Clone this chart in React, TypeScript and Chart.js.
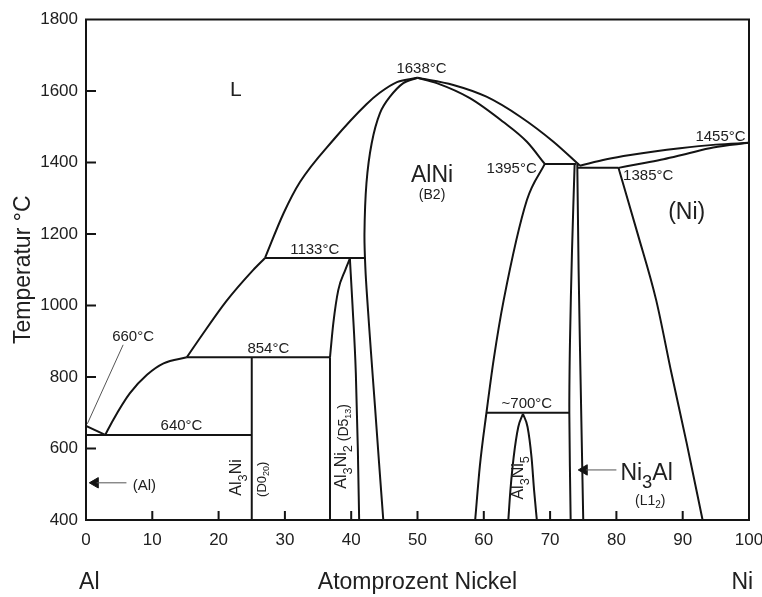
import React, { useEffect, useRef } from 'react';
import { Chart, registerables } from 'chart.js';

Chart.register(...registerables);

// ---------- axes ----------
const xMin = 0, xMax = 100, xStep = 10;
const yMin = 400, yMax = 1800, yStep = 200;
const xTitle = 'Atomprozent Nickel';
const yTitle = 'Temperatur °C';
const xEndLabels = [{ text: 'Al', x: 0.5 }, { text: 'Ni', x: 99 }];

// ---------- phase boundaries: [at.% Ni, °C] ----------
const alLiquidus = [[0, 663], [2.9, 638]];
const liquidusToAl3Ni = [[2.9, 638], [4.1, 680], [6.6, 754], [9.2, 806], [11.7, 838], [15.2, 855]];
const liquidusToAl3Ni2 = [[15.2, 855], [17.3, 912], [21.2, 1013], [25.2, 1099], [27, 1133]];
const liquidusAlNiLeft = [[27, 1133], [29.8, 1258], [32.3, 1346], [37.3, 1463], [42.3, 1563], [44.3, 1595], [46.9, 1625], [50, 1637]];
const liquidusAlNiRight = [[50, 1637], [55.4, 1617], [60.4, 1584], [65.5, 1528], [70.5, 1458], [74.5, 1391]];
const solidusAlNiRight = [[50, 1637], [52.9, 1622], [57.9, 1580], [62.9, 1514], [66.5, 1458], [69.2, 1396]];
const alNiLeftBoundary = [[50, 1637], [47.86, 1622], [45.85, 1584], [44.34, 1538], [43.09, 1454], [42.3, 1342], [42.0, 1200], [42.15, 1100], [42.43, 1015], [43.0, 865], [43.59, 717], [44.2, 560], [44.84, 400]];
const alNiRightBoundary = [[58.7, 400], [59.4, 550], [60.4, 700], [61.5, 850], [63.0, 1015], [66.5, 1295], [69.2, 1396]];
const tie1133 = [[27, 1133], [42.1, 1133]];
const tie854 = [[15.2, 855], [36.8, 855]];
const tie640 = [[0, 638], [25, 638]];
const tie1395 = [[69.2, 1396], [73.9, 1396]];
const tie1385 = [[74.1, 1385], [80.3, 1385]];
const tie700 = [[60.4, 700], [72.9, 700]];
const al3NiLine = [[25, 855], [25, 400]];
const al3Ni2LeftUpper = [[36.8, 855], [37.3, 950], [38.05, 1043], [39.1, 1099], [39.8, 1131]];
const al3Ni2LeftLower = [[36.8, 855], [36.8, 400]];
const al3Ni2Right = [[39.8, 1131], [40.2, 1000], [40.7, 810], [41.0, 600], [41.2, 400]];
const ni3AlLeft = [[73.7, 1396], [73.3, 1150], [73.0, 900], [72.9, 700], [73.1, 400]];
const ni3AlRight = [[74.1, 1396], [74.3, 1100], [74.6, 790], [75.0, 400]];
const niLiquidus = [[74.5, 1391], [78.5, 1409], [82.1, 1421], [89.6, 1440], [95, 1450], [100, 1455]];
const niSolidus = [[80.3, 1385], [84, 1398], [87.1, 1409], [90.5, 1424], [94.6, 1442], [100, 1455]];
const niSolvus = [[80.3, 1386], [83.2, 1201], [86.0, 1015], [88.3, 811], [90.6, 615], [93.0, 400]];
const al3Ni5Left = [[63.7, 400], [64.0, 480], [64.5, 575], [65.2, 660], [65.9, 697]];
const al3Ni5Right = [[65.9, 697], [66.6, 660], [67.2, 575], [67.6, 480], [68.0, 400]];

// ---------- leader lines / arrows ----------
const leader660 = [[0.2, 669], [5.6, 890]];
const arrowAlLine = [[1.6, 504], [6.1, 504]];
const arrowAlHead = [[1.4, 504]];
const arrowNi3AlLine = [[75.4, 540], [80.0, 540]];
const arrowNi3AlHead = [[75.15, 540]];

const FONT = '"Liberation Sans", Arial, Helvetica, sans-serif';
const LINE = '#141414';
const TEXT = '#202020';

type Part = string | { t: string; sub?: boolean; size?: number; dy?: number };
type Label = { parts: Part[]; x: number; y: number; size: number; rot?: number; align?: 'center' | 'left' | 'right' };

// label anchors in data coordinates
const labels: Label[] = [
  { parts: ['L'], x: 22.6, y: 1608, size: 21 },
  { parts: ['1638°C'], x: 50.6, y: 1666, size: 15 },
  { parts: ['AlNi'], x: 52.2, y: 1368, size: 23 },
  { parts: ['(B2)'], x: 52.2, y: 1311, size: 14 },
  { parts: ['1395°C'], x: 64.2, y: 1386, size: 15 },
  { parts: ['1455°C'], x: 95.7, y: 1475, size: 15 },
  { parts: ['1385°C'], x: 84.8, y: 1367, size: 15 },
  { parts: ['(Ni)'], x: 90.6, y: 1265, size: 23 },
  { parts: ['1133°C'], x: 34.5, y: 1158, size: 15 },
  { parts: ['660°C'], x: 7.1, y: 917, size: 15 },
  { parts: ['854°C'], x: 27.5, y: 882, size: 15 },
  { parts: ['640°C'], x: 14.4, y: 668, size: 15 },
  { parts: ['(Al)'], x: 8.8, y: 498, size: 15 },
  { parts: ['~700°C'], x: 66.5, y: 729, size: 15 },
  { parts: ['Ni', { t: '3', sub: true }, 'Al'], x: 80.6, y: 536, size: 23, align: 'left' },
  { parts: ['(L1', { t: '2', sub: true, size: 10, dy: 3 }, ')'], x: 85.1, y: 456, size: 14 },
  { parts: ['Al', { t: '3', sub: true }, 'Ni'], x: 22.5, y: 519, size: 16, rot: -90 },
  { parts: ['(D0', { t: '20', size: 9, dy: 3 }, ')'], x: 26.4, y: 514, size: 13, rot: -90 },
  { parts: ['Al', { t: '3', sub: true }, 'Ni', { t: '2', sub: true }, { t: ' (D5', size: 14, dy: 2 }, { t: '13', size: 9, dy: 5 }, { t: ')', size: 14, dy: 2 }], x: 38.4, y: 606, size: 16, rot: -90 },
  { parts: ['Al', { t: '3', sub: true }, 'Ni', { t: '5', sub: true }], x: 65.1, y: 518, size: 16, rot: -90 },
];

function drawRich(ctx: CanvasRenderingContext2D, lab: Label, px: number, py: number) {
  ctx.save();
  ctx.translate(px, py);
  if (lab.rot) ctx.rotate((lab.rot * Math.PI) / 180);
  const segs = lab.parts.map((p) => {
    const o = typeof p === 'string' ? { t: p } : p;
    const size = o.size ?? (o.sub ? lab.size * 0.8 : lab.size);
    const dy = o.dy ?? (o.sub ? lab.size * 0.38 : 0);
    ctx.font = `${size}px ${FONT}`;
    return { t: o.t, size, dy, w: ctx.measureText(o.t).width };
  });
  const total = segs.reduce((a, s) => a + s.w, 0);
  const align = lab.align ?? 'center';
  let x0 = align === 'center' ? -total / 2 : align === 'right' ? -total : 0;
  ctx.fillStyle = TEXT;
  ctx.textAlign = 'left';
  ctx.textBaseline = 'alphabetic';
  for (const s of segs) {
    ctx.font = `${s.size}px ${FONT}`;
    ctx.fillText(s.t, x0, lab.size * 0.36 + s.dy);
    x0 += s.w;
  }
  ctx.restore();
}

const overlayPlugin = {
  id: 'phaseOverlay',
  afterDatasetsDraw(chart: any) {
    const { ctx, chartArea, scales } = chart;
    const xs = scales.x, ys = scales.y;
    ctx.save();
    ctx.strokeStyle = LINE;
    ctx.lineWidth = 2;
    ctx.strokeRect(chartArea.left, chartArea.top, chartArea.right - chartArea.left, chartArea.bottom - chartArea.top);
    ctx.beginPath();
    for (let v = xMin + xStep; v < xMax; v += xStep) {
      const p = xs.getPixelForValue(v);
      ctx.moveTo(p, chartArea.bottom);
      ctx.lineTo(p, chartArea.bottom - 9);
    }
    for (let v = yMin + yStep; v < yMax; v += yStep) {
      const p = ys.getPixelForValue(v);
      ctx.moveTo(chartArea.left, p);
      ctx.lineTo(chartArea.left + 10, p);
    }
    ctx.stroke();
    for (const lab of labels) {
      drawRich(ctx, lab, xs.getPixelForValue(lab.x), ys.getPixelForValue(lab.y));
    }
    ctx.fillStyle = TEXT;
    ctx.font = `23px ${FONT}`;
    ctx.textAlign = 'center';
    ctx.textBaseline = 'middle';
    for (const e of xEndLabels) {
      ctx.fillText(e.text, xs.getPixelForValue(e.x), xs.bottom - 14);
    }
    ctx.restore();
  },
};

const toPts = (a: number[][]) => a.map(([x, y]) => ({ x, y }));

// [points, interpolation]: 'm' monotone cubic, number = bezier tension
const curveList: [number[][], 'm' | number][] = [
  [alLiquidus, 0],
  [liquidusToAl3Ni, 'm'],
  [liquidusToAl3Ni2, 'm'],
  [liquidusAlNiLeft, 'm'],
  [liquidusAlNiRight, 'm'],
  [solidusAlNiRight, 'm'],
  [alNiLeftBoundary, 0.3],
  [alNiRightBoundary, 'm'],
  [tie1133, 0],
  [tie854, 0],
  [tie640, 0],
  [tie1395, 0],
  [tie1385, 0],
  [tie700, 0],
  [al3NiLine, 0],
  [al3Ni2LeftUpper, 'm'],
  [al3Ni2LeftLower, 0],
  [al3Ni2Right, 'm'],
  [ni3AlLeft, 0.3],
  [ni3AlRight, 'm'],
  [niLiquidus, 'm'],
  [niSolidus, 'm'],
  [niSolvus, 'm'],
  [al3Ni5Left, 'm'],
  [al3Ni5Right, 'm'],
];

function buildDatasets() {
  const ds: any[] = curveList.map(([pts, mode]) => ({
    data: toPts(pts),
    showLine: true,
    borderColor: LINE,
    borderWidth: 2,
    pointRadius: 0,
    tension: mode === 'm' ? 0 : mode,
    cubicInterpolationMode: mode === 'm' ? 'monotone' : 'default',
    fill: false,
  }));
  for (const pts of [leader660, arrowAlLine, arrowNi3AlLine]) {
    ds.push({ data: toPts(pts), showLine: true, borderColor: '#555', borderWidth: 1, pointRadius: 0, tension: 0, fill: false });
  }
  for (const pts of [arrowAlHead, arrowNi3AlHead]) {
    ds.push({
      data: toPts(pts),
      showLine: false,
      pointStyle: 'triangle',
      pointRotation: 270,
      pointRadius: 6,
      pointBackgroundColor: LINE,
      pointBorderColor: LINE,
      pointBorderWidth: 1,
    });
  }
  return ds;
}

export default function App() {
  const ref = useRef<HTMLCanvasElement>(null);
  useEffect(() => {
    if (!ref.current) return;
    const chart = new Chart(ref.current, {
      type: 'scatter',
      data: { datasets: buildDatasets() },
      options: {
        responsive: false,
        animation: false,
        events: [],
        layout: { padding: { top: 19.5, right: 13, bottom: 0, left: 0 } },
        plugins: { legend: { display: false }, tooltip: { enabled: false } },
        scales: {
          x: {
            type: 'linear',
            min: xMin,
            max: xMax,
            position: 'bottom',
            grid: { display: false, drawTicks: false },
            border: { display: false },
            ticks: { stepSize: xStep, padding: 10, color: TEXT, font: { size: 17, family: FONT }, maxRotation: 0, autoSkip: false, callback: (v: any) => String(v) },
            title: { display: true, text: xTitle, color: TEXT, font: { size: 23, family: FONT }, padding: { top: 0, bottom: 1 } },
            afterFit(s: any) { s.height = 77; s.paddingLeft = 0; s.paddingRight = 0; },
          },
          y: {
            type: 'linear',
            min: yMin,
            max: yMax,
            position: 'left',
            grid: { display: false, drawTicks: false },
            border: { display: false },
            ticks: { stepSize: yStep, padding: 8, color: TEXT, font: { size: 17, family: FONT }, callback: (v: any) => String(v) },
            title: { display: true, text: yTitle, color: TEXT, font: { size: 23, family: FONT }, padding: { top: 10, bottom: 0 } },
            afterFit(s: any) { s.width = 86; s.paddingTop = 0; s.paddingBottom = 0; },
          },
        },
      } as any,
      plugins: [overlayPlugin],
    });
    return () => chart.destroy();
  }, []);
  return (
    <div style={{ position: 'fixed', left: 0, top: 0, width: 762, height: 597, background: '#fff' }}>
      <canvas ref={ref} width={762} height={597} style={{ width: 762, height: 597, display: 'block' }} />
    </div>
  );
}
